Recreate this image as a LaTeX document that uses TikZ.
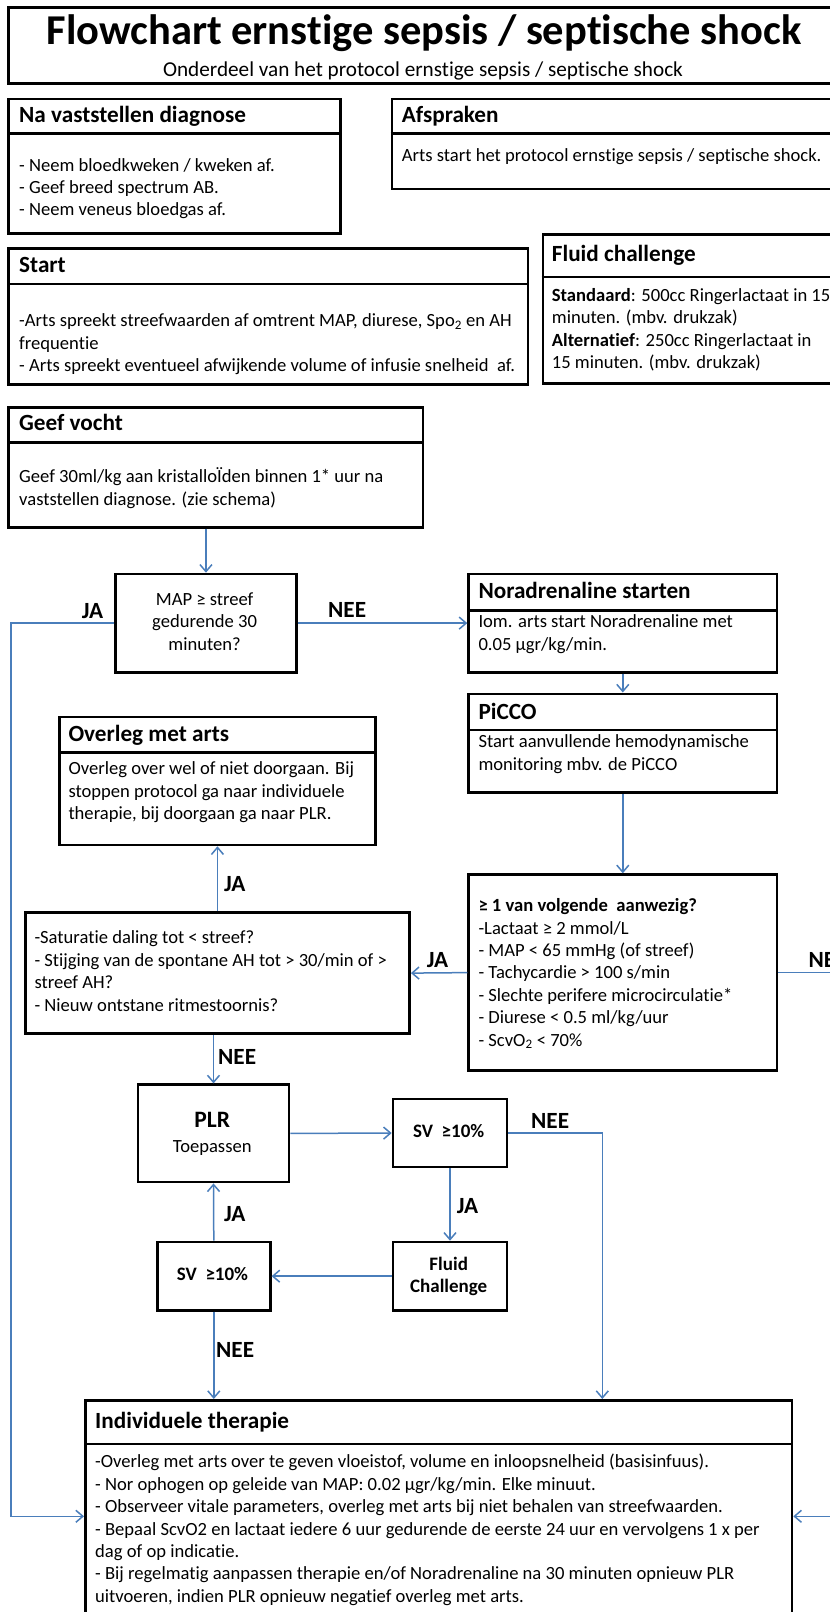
\documentclass[tikz,border=0pt]{standalone}
\usepackage{fontspec}
\setmainfont{Carlito}[Ligatures=NoCommon]
\usepackage{xcolor}
\usepackage{tikz}
\usetikzlibrary{arrows.meta, calc}

\definecolor{lijnblauw}{HTML}{4A7EBB}

% multi-line text nodes sit on the baseline of their LAST line
\tikzset{
  kader/.style={draw, line width=2.6pt, inner sep=0pt, anchor=north west},
  scheidlijn/.style={line width=2.6pt},
  kop/.style={anchor=base west, inner sep=0pt, font=\fontsize{23.2}{27}\selectfont\bfseries},
  tekst/.style={anchor=base west, inner sep=0pt, align=left, font=\fontsize{18.6}{22.4}\selectfont},
  midden/.style={anchor=base, inner sep=0pt, align=center, font=\fontsize{18.6}{22.4}\selectfont},
  klein/.style={midden, font=\fontsize{19}{22.4}\selectfont\bfseries},
  keuze/.style={anchor=base west, inner sep=0pt, font=\fontsize{23.2}{27}\selectfont\bfseries},
  pijl/.style={draw=lijnblauw, line width=1.5pt, -{Straight Barb[length=7pt,width=12pt]}},
}

\begin{document}
\begin{tikzpicture}[x=1pt, y=-1pt]
\path[fill=white, use as bounding box] (0,0) rectangle (830,1612);
\clip (0,0) rectangle (830,1612);

% titel
\node[kader, minimum width=860pt, minimum height=75.8pt] (titelkader) at (7.3,6.2) {};
\node[anchor=base, inner sep=0pt, font=\fontsize{42.5}{46}\selectfont\bfseries] (titel) at (424,44.8) {Flowchart ernstige sepsis / septische shock};
\node[anchor=base, inner sep=0pt, font=\fontsize{21.2}{24}\selectfont] (subtitel) at (423,76.4) {Onderdeel van het protocol ernstige sepsis / septische shock};

% na vaststellen diagnose
\node[kader, minimum width=331.7pt, minimum height=134.9pt] (na) at (7.3,97.5) {};
\draw[scheidlijn] (na.west |- 0,133.6) -- (na.east |- 0,133.6);
\node[kop] (nakop) at (19,122) {Na vaststellen diagnose};
\node[tekst] (natekst) at (19,215.8) {- Neem bloedkweken / kweken af.\\- Geef breed spectrum AB.\\- Neem veneus bloedgas af.};

% afspraken
\node[kader, minimum width=470pt, minimum height=90.2pt] (afspr) at (390.7,97.5) {};
\draw[scheidlijn] (afspr.west |- 0,133.6) -- (afspr.east |- 0,133.6);
\node[kop] (afsprkop) at (401.7,122) {Afspraken};
\node[tekst] (afsprtekst) at (401.7,161) {Arts start het protocol ernstige sepsis / septische shock.};

% start
\node[kader, minimum width=519.4pt, minimum height=136pt] (start) at (7.3,247) {};
\draw[scheidlijn] (start.west |- 0,284) -- (start.east |- 0,284);
\node[kop] (startkop) at (19,272.7) {Start};
\node[tekst] (starttekst) at (19,371.5) {-Arts spreekt streefwaarden af omtrent MAP, diurese, Spo\textsubscript{2} en AH\\frequentie\\- Arts spreekt eventueel afwijkende volume of infusie snelheid~ af.};

% fluid challenge
\node[kader, minimum width=320pt, minimum height=149pt] (fluid) at (541.7,233) {};
\draw[scheidlijn] (fluid.west |- 0,277) -- (fluid.east |- 0,277);
\node[kop] (fluidkop) at (551.7,261.7) {Fluid challenge};
\node[tekst] (fluidtekst) at (551.7,368.5) {\textbf{Standaard}: 500cc Ringerlactaat in 15\\minuten. (mbv. drukzak)\\\textbf{Alternatief}: 250cc Ringerlactaat in\\15 minuten. (mbv. drukzak)};

% geef vocht
\node[kader, minimum width=414.4pt, minimum height=119.7pt] (vocht) at (7.3,406.3) {};
\draw[scheidlijn] (vocht.west |- 0,442.5) -- (vocht.east |- 0,442.5);
\node[kop] (vochtkop) at (19,430) {Geef vocht};
\node[tekst] (vochttekst) at (19,505) {Geef 30ml/kg aan kristalloÏden binnen 1* uur na\\vaststellen diagnose. (zie schema)};

% MAP vraag
\node[kader, minimum width=180.7pt, minimum height=98.2pt] (map) at (114.3,572.7) {};
\node[midden] (maptekst) at (204.6,650.2) {MAP ≥ streef\\gedurende 30\\minuten?};

% noradrenaline
\node[kader, minimum width=308.4pt, minimum height=98.2pt] (nor) at (467.3,572.7) {};
\draw[scheidlijn] (nor.west |- 0,610.6) -- (nor.east |- 0,610.6);
\node[kop] (norkop) at (478.3,598.5) {Noradrenaline starten};
\node[tekst] (nortekst) at (478.3,650.2) {Iom. arts start Noradrenaline met\\0.05 µgr/kg/min.};

% picco
\node[kader, minimum width=308.4pt, minimum height=98.9pt] (picco) at (467.3,692.5) {};
\draw[scheidlijn] (picco.west |- 0,730) -- (picco.east |- 0,730);
\node[kop] (piccokop) at (478.3,719) {PiCCO};
\node[tekst] (piccotekst) at (478.3,770) {Start aanvullende hemodynamische\\monitoring mbv. de PiCCO};

% overleg met arts
\node[kader, minimum width=315.7pt, minimum height=128.1pt] (overleg) at (58.3,715.6) {};
\draw[scheidlijn] (overleg.west |- 0,752.5) -- (overleg.east |- 0,752.5);
\node[kop] (overlegkop) at (68.3,741.4) {Overleg met arts};
\node[tekst] (overlegtekst) at (68.3,819.6) {Overleg over wel of niet doorgaan. Bij\\stoppen protocol ga naar individuele\\therapie, bij doorgaan ga naar PLR.};

% criteria
\node[kader, minimum width=308.4pt, minimum height=196pt] (crit) at (467.3,873.3) {};
\node[tekst] (crittekst) at (478.3,1046) {\textbf{≥ 1 van volgende~ aanwezig?}\\-Lactaat ≥ 2 mmol/L\\- MAP < 65 mmHg (of streef)\\- Tachycardie > 100 s/min\\- Slechte perifere microcirculatie*\\- Diurese < 0.5 ml/kg/uur\\- ScvO\textsubscript{2} < 70\%};

% saturatie
\node[kader, minimum width=384.3pt, minimum height=121.2pt] (sat) at (24,911.2) {};
\node[tekst] (sattekst) at (34.3,1011) {-Saturatie daling tot < streef?\\- Stijging van de spontane AH tot > 30/min of >\\streef AH?\\- Nieuw ontstane ritmestoornis?};

% PLR en SV
\node[kader, minimum width=151pt, minimum height=97.4pt] (plr) at (136.7,1083.4) {};
\node[anchor=base, inner sep=0pt, font=\fontsize{23.5}{27}\selectfont\bfseries] (plrkop) at (212.2,1127.8) {PLR};
\node[midden] (plrtekst) at (212.2,1152) {Toepassen};

\node[kader, minimum width=114pt, minimum height=67.9pt] (sv1) at (391.7,1097.8) {};
\node[klein] (sv1tekst) at (448.7,1137.4) {SV~ ≥10\%};

\node[kader, minimum width=114pt, minimum height=68.3pt] (fc) at (391.7,1240.7) {};
\node[klein] (fctekst) at (448.7,1292.4) {Fluid\\Challenge};

\node[kader, minimum width=113pt, minimum height=68.3pt] (sv2) at (156,1240.7) {};
\node[klein] (sv2tekst) at (212.5,1280.3) {SV~ ≥10\%};

% individuele therapie
\node[kader, minimum width=706.7pt, minimum height=232pt] (indiv) at (84,1399) {};
\draw[scheidlijn] (indiv.west |- 0,1444) -- (indiv.east |- 0,1444);
\node[kop] (indivkop) at (95,1428.4) {Individuele therapie};
\node[tekst] (indivtekst) at (95,1602.3) {-Overleg met arts over te geven vloeistof, volume en inloopsnelheid (basisinfuus).\\- Nor ophogen op geleide van MAP: 0.02 µgr/kg/min. Elke minuut.\\- Observeer vitale parameters, overleg met arts bij niet behalen van streefwaarden.\\- Bepaal ScvO2 en lactaat iedere 6 uur gedurende de eerste 24 uur en vervolgens 1 x per\\dag of op indicatie.\\- Bij regelmatig aanpassen therapie en/of Noradrenaline na 30 minuten opnieuw PLR\\uitvoeren, indien PLR opnieuw negatief overleg met arts.};

% hulppunten
\coordinate (links) at (11,0);
\coordinate (rechts) at (850,0);
\coordinate (neeval) at (602.3,0);

% verbindingen
\draw[pijl] (vocht.south -| map.north) -- (map.north);
\draw[pijl] (map.east) -- (nor.west);
\draw[pijl] (map.west) -- (map.west -| links) |- (indiv.west);
\draw[pijl] (nor.south) -- (picco.north);
\draw[pijl] (picco.south) -- (crit.north);
\draw[pijl] (crit.west) -- (sat.east);
\draw[pijl] (crit.east) -- (crit.east -| rechts) |- (indiv.east);
\draw[pijl] (sat.north) -- (overleg.south);
\draw[pijl] (sat.south -| plr.north) -- (plr.north);
\draw[pijl] (plr.east) -- (sv1.west);
\draw[pijl] (sv1.east) -| (neeval |- indiv.north);
\draw[pijl] (sv1.south) -- (fc.north);
\draw[pijl] (fc.west) -- (sv2.east);
\draw[pijl] (sv2.north) -- (plr.south);
\draw[pijl] (sv2.south) -- (sv2.south |- indiv.north);

% JA / NEE
\node[keuze] (ja1) at (81.7,618.5) {JA};
\node[keuze] (nee1) at (328,617.5) {NEE};
\node[keuze] (ja2) at (224,891) {JA};
\node[keuze] (ja3) at (426.7,967) {JA};
\node[keuze] (nee2) at (808.3,967) {NEE};
\node[keuze] (nee3) at (218,1064) {NEE};
\node[keuze] (nee4) at (531,1128.8) {NEE};
\node[keuze] (ja4) at (456.7,1213) {JA};
\node[keuze] (ja5) at (224,1221.8) {JA};
\node[keuze] (nee5) at (216,1357) {NEE};
\end{tikzpicture}
\end{document}
